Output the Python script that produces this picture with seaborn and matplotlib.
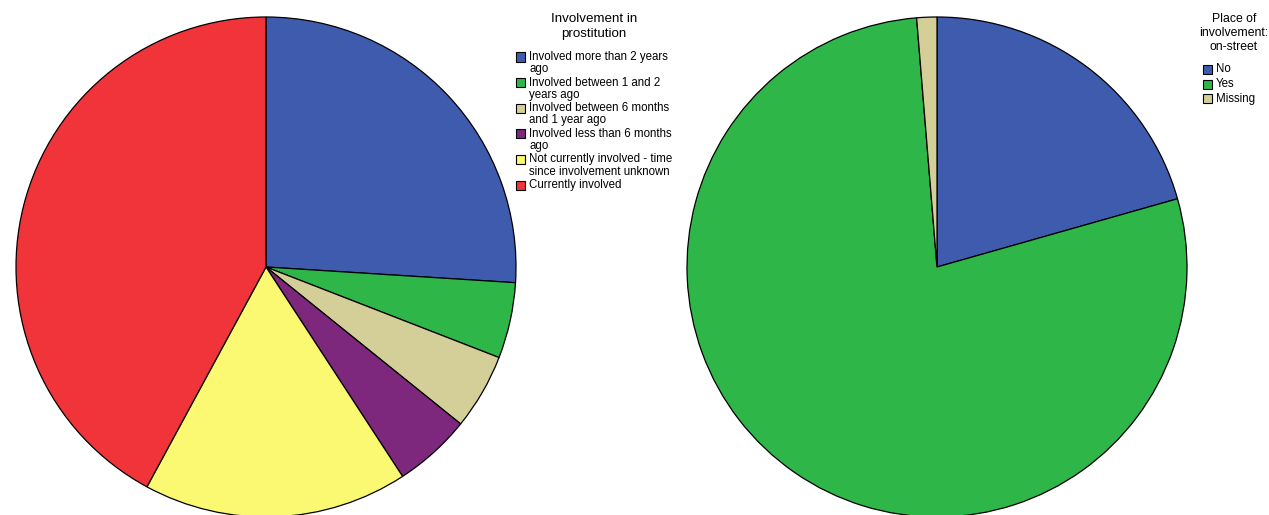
import matplotlib
matplotlib.use('Agg')
import matplotlib.pyplot as plt
import seaborn as sns
from matplotlib.patches import Rectangle

# ---- data ----
left_title = "Involvement in\nprostitution"
left_labels = [
    "Involved more than 2 years\nago",
    "Involved between 1 and 2\nyears ago",
    "Involved between 6 months\nand 1 year ago",
    "Involved less than 6 months\nago",
    "Not currently involved - time\nsince involvement unknown",
    "Currently involved",
]
left_values = [26.0, 4.9, 4.9, 5.0, 17.1, 42.1]
left_colors = ["#3F5BAE", "#2EB748", "#D4CF98", "#7D287C", "#FBF871", "#F1343A"]

right_title = "Place of\ninvolvement:\non-street"
right_labels = ["No", "Yes", "Missing"]
right_values = [20.6, 78.1, 1.3]
right_colors = ["#3F5BAE", "#2EB748", "#D4CF98"]

# ---- style ----
sns.set_theme(style="white")
plt.rcParams['font.family'] = ['Liberation Sans', 'DejaVu Sans']

W, H = 1269, 515
fig = plt.figure(figsize=(W / 100, H / 100), dpi=100)
fig.patch.set_facecolor("white")


def px_axes(x0, y0, w, h):
    return fig.add_axes([x0 / W, 1 - (y0 + h) / H, w / W, h / H])


def draw_pie(x0, y0, size, values, colors):
    ax = px_axes(x0, y0, size, size)
    ax.pie(values, colors=colors, startangle=90, counterclock=False,
           wedgeprops=dict(edgecolor="black", linewidth=0.9))
    ax.set_xlim(-1.0, 1.0)
    ax.set_ylim(-1.0, 1.0)
    ax.set_aspect("equal")
    ax.axis("off")
    return ax


draw_pie(16, 17, 500, left_values, left_colors)
draw_pie(687, 17, 500, right_values, right_colors)


def fx(x):
    return x / W


def fy(y):
    return 1 - y / H


def draw_legend(title, title_x, title_y, labels, colors, box_x, text_x, y0, step,
                fs=8.3, tfs=9.6, tls=1.3):
    fig.text(fx(title_x), fy(title_y), title, ha="center", va="top",
             fontsize=tfs, linespacing=tls, color="black")
    for i, (lab, col) in enumerate(zip(labels, colors)):
        yc = y0 + i * step
        fig.patches.append(Rectangle((fx(box_x), fy(yc + 4.5)), 9 / W, 9 / H,
                                     transform=fig.transFigure, facecolor=col,
                                     edgecolor="black", linewidth=0.8))
        fig.text(fx(text_x), fy(yc - 6), lab, ha="left", va="top",
                 fontsize=fs, linespacing=1.03, color="black")


draw_legend(left_title, 594, 13, left_labels, left_colors, 516, 529, 57, 25.6)
draw_legend(right_title, 1234, 13, right_labels, right_colors, 1203, 1216, 69.5, 14.7,
            tfs=8.8, tls=1.25)

fig.savefig("out.png", dpi=100, facecolor="white")
